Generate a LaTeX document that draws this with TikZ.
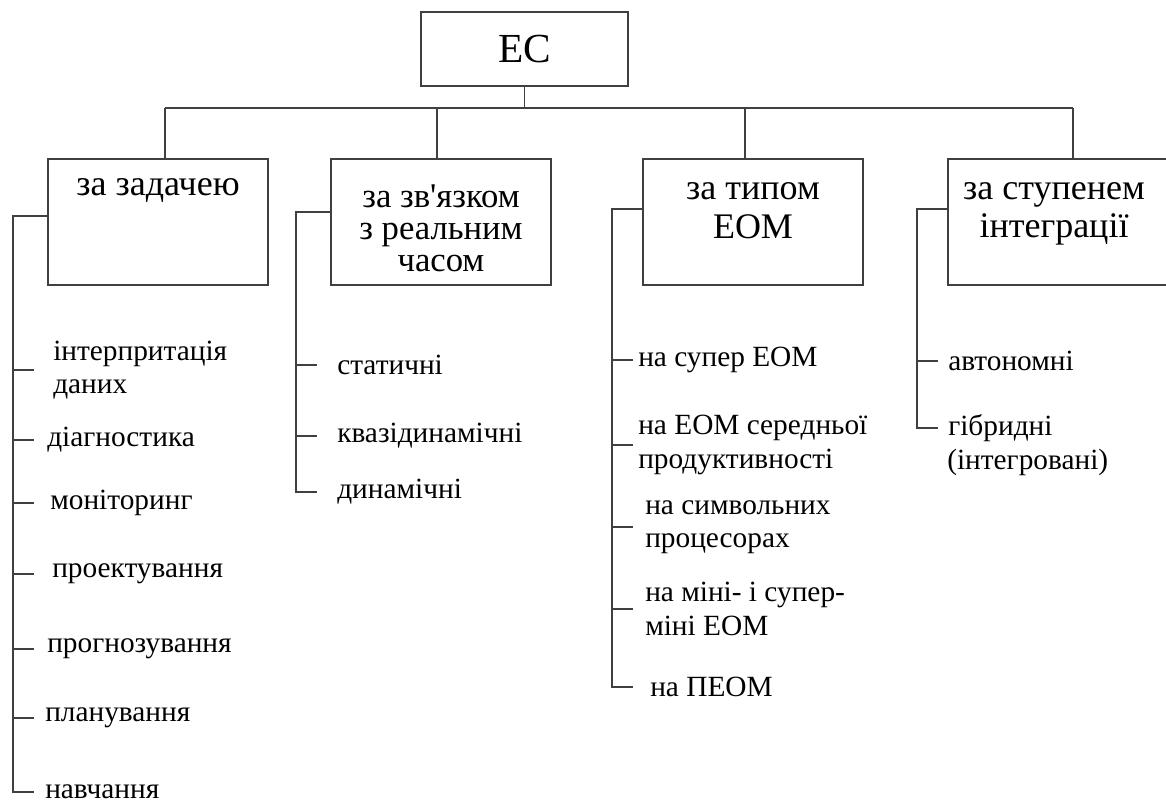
\documentclass[tikz,border=0pt]{standalone}
\usepackage{fontspec}
\setmainfont{Liberation Serif}
\usetikzlibrary{positioning}

\tikzset{
  line/.style={line width=1.4pt, draw=black!75},
  box/.style={line, rectangle, minimum width=165pt, minimum height=94pt, inner sep=0pt},
  boxtxt/.style={align=center, inner sep=0pt, font=\fontsize{27}{29}\selectfont},
  leaf/.style={anchor=west, align=left, inner sep=0pt, font=\fontsize{22}{25}\selectfont},
}

\begin{document}
\begin{tikzpicture}[x=0.75pt,y=-0.75pt]
                \useasboundingbox (0,0) rectangle (1166,803);
                \clip (0,0) rectangle (1166,803);
                % root
                \node[line, draw, minimum width=155pt, minimum height=55pt, font=\fontsize{31}{36}\selectfont] (ec) at (524.5,49) {ЕС};
                \coordinate (bus) at (0,108);
                % groups
                \node[box, draw] (b1) at (158,222) {};
                \node[box, draw] (b2) at (441,222) {};
                \node[box, draw] (b3) at (753,222) {};
                \node[box, draw] (b4) at (1058,222) {};
                \node[boxtxt] (t1) at (158,190) {за задачею};
                \node[boxtxt, font=\fontsize{26}{24}\selectfont] (t2) at (441,228) {за зв\textquotesingle язком\\з реальним\\часом};
                \node[boxtxt] (t3) at (753,211) {за типом\\ЕОМ};
                \node[boxtxt] (t4) at (1054,214) {за ступенем\\інтеграції};
                \draw[line] (ec.south) -- (ec.south |- bus);
                \draw[line] ([xshift=5]b1.north |- bus) -- ([xshift=11]b4.north |- bus);
                \foreach \b/\d in {b1/5,b2/-3,b3/-6,b4/11}
                    \draw[line] ([xshift=\d]\b.north |- bus) -- ([xshift=\d]\b.north);
                % leaves
                \foreach \n/\x/\y/\t in {l11/53/370/{інтерпритація\\даних}, l12/47/440/діагностика,
                        l13/50/503/моніторинг, l14/52/574/проектування, l15/47/649/прогнозування,
                        l16/45/718/планування, l17/45/792/навчання,
                        l21/337/365/статичні, l22/337/436/квазідинамічні, l23/337/492/динамічні,
                        l31/638/360/{на супер ЕОМ}, l32/638/445/{на ЕОМ середньої\\продуктивності},
                        l33/645/527/{на символьних\\процесорах}, l34/645/609/{на міні- і супер-\\міні ЕОМ},
                        l35/650/687/{на ПЕОМ},
                        l41/948/361/автономні, l42/948/428/гібридні, l43/947/462/(інтегровані)}
                    \node[leaf] (\n) at (\x,\y) {\t};
                % spines
                \coordinate (s1) at (13,216);
                \coordinate (s2) at (296,212);
                \coordinate (s3) at (612,209);
                \coordinate (s4) at (917,209);
                \draw[line] (b1.west |- s1) -- (s1) -- (s1 |- l17.west) -- ++(21,0);
                \draw[line] (b2.west |- s2) -- (s2) -- (s2 |- l23.west) -- ++(21,0);
                \draw[line] (b3.west |- s3) -- (s3) -- (s3 |- l35.west) -- ++(21,0);
                \draw[line] (b4.west |- s4) -- (s4) -- (s4 |- l42.west) -- ++(21,0);
                \foreach \s/\l in {s1/l11,s1/l12,s1/l13,s1/l14,s1/l15,s1/l16,
                        s2/l21,s2/l22,s3/l31,s3/l32,s3/l33,s3/l34,s4/l41}
                    \draw[line] (\s |- \l.west) -- ++(21,0);
            \end{tikzpicture}
\end{document}
